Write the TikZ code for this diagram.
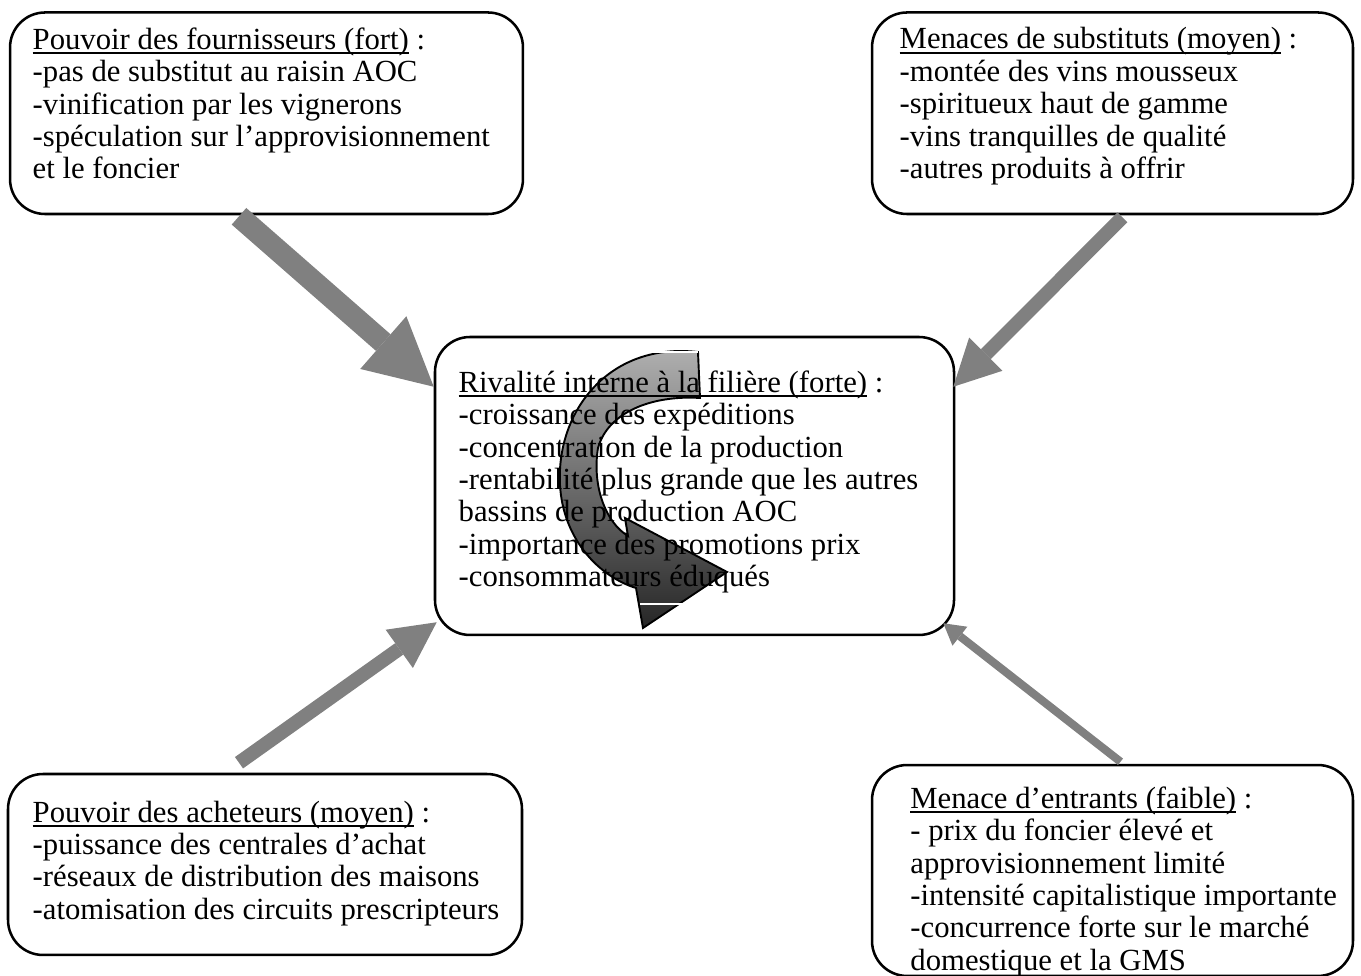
\documentclass[tikz,border=0pt]{standalone}
\usepackage{fontspec}
\setmainfont{Liberation Serif}
\usetikzlibrary{arrows.meta,calc,positioning}
\tikzset{every picture/.style={line width=0.75pt}}
\newcommand{\souligne}[1]{\setbox0=\hbox{#1}\rlap{\rule[-1.85pt]{\wd0}{0.7pt}}\box0\relax}

\begin{document}
\begin{tikzpicture}[x=0.394pt,y=0.394pt,yscale=-1,xscale=1,
  boite/.style={draw, line width=1pt, rounded corners=13.8pt, inner sep=0pt},
  texte/.style={anchor=north west, align=left, inner sep=0pt, font=\fontsize{12.1pt}{12.75pt}\selectfont,
    execute at begin node=\rule{0pt}{9pt}},
  fleche/.style n args={3}{draw=gray, line width=#1, -{Triangle[length=#2, width=#3, line width=0pt]}},
  spirale/.style={draw=black, line width=0.75pt, top color=black!30, bottom color=black!85}]
\useasboundingbox (0,0) rectangle (1361,976);

%Boxes
\node[boite, minimum width=202.1pt, minimum height=79.4pt] (tl) at (266.5,113.25) {};
\node[boite, minimum width=189.5pt, minimum height=79.4pt] (tr) at (1112.5,113.25) {};
\node[boite, minimum width=204.5pt, minimum height=117.4pt] (cen) at (694.5,486) {};
\node[boite, minimum width=202.5pt, minimum height=71.3pt] (bl) at (265,864.5) {};
\node[boite, minimum width=189.5pt, minimum height=83.1pt] (br) at (1112.5,870.5) {};

%Forces
\draw[fleche={8.7pt}{26.4pt}{27.6pt}] ($(tl.south)+(-27.5,1)$) -- ($(cen.north west)+(0,51)$);
\draw[fleche={5.5pt}{18.1pt}{18.5pt}] ($(tr.south)+(10,2)$) -- ($(cen.north east)+(-2,51)$);
\draw[fleche={5.5pt}{18.1pt}{18.5pt}] ($(bl.north)+(-26,-10)$) -- ($(cen.south west)+(3,-14)$);
\draw[fleche={3.2pt}{8.3pt}{9.5pt}] ($(br.north)+(8,-2)$) -- ($(cen.south east)+(-12,-13)$);

%Rivalry arrow
\draw[spirale] (698,352) .. controls (610,342) and (556,410) .. (560,485)
  .. controls (563,540) and (600,577) .. (636,588) -- (643,628) -- (727,572)
  -- (625,518) -- (628,536) .. controls (605,522) and (592,485) .. (598,448)
  .. controls (608,412) and (652,395) .. (700,398) -- cycle;
\draw[white, line width=0.6pt] (643,352) -- (698,352) (640,604) -- (697,604);

%Texts
\node[texte] (tl-t) at ($(tl.north west)+(23,15.5)$) {\souligne{Pouvoir des fournisseurs (fort)} :\\
-pas de substitut au raisin AOC\\
-vinification par les vignerons\\
-spéculation sur l’approvisionnement\\
et le foncier};
\node[texte] (tr-t) at ($(tr.north west)+(28,15.5)$) {\souligne{Menaces de substituts (moyen)} :\\
-montée des vins mousseux\\
-spiritueux haut de gamme\\
-vins tranquilles de qualité\\
-autres produits à offrir};
\node[texte] (cen-t) at ($(cen.north west)+(24,34)$) {\souligne{Rivalité interne à la filière (forte)} :\\
-croissance des expéditions\\
-concentration de la production\\
-rentabilité plus grande que les autres\\
bassins de production AOC\\
-importance des promotions prix\\
-consommateurs éduqués};
\node[texte] (bl-t) at ($(bl.north west)+(25,27)$) {\souligne{Pouvoir des acheteurs (moyen)} :\\
-puissance des centrales d’achat\\
-réseaux de distribution des maisons\\
-atomisation des circuits prescripteurs};
\node[texte] (br-t) at ($(br.north west)+(38.7,22)$) {\souligne{Menace d’entrants (faible)} :\\
- prix du foncier élevé et\\
approvisionnement limité\\
-intensité capitalistique importante\\
-concurrence forte sur le marché\\
domestique et la GMS};

\end{tikzpicture}
\end{document}
